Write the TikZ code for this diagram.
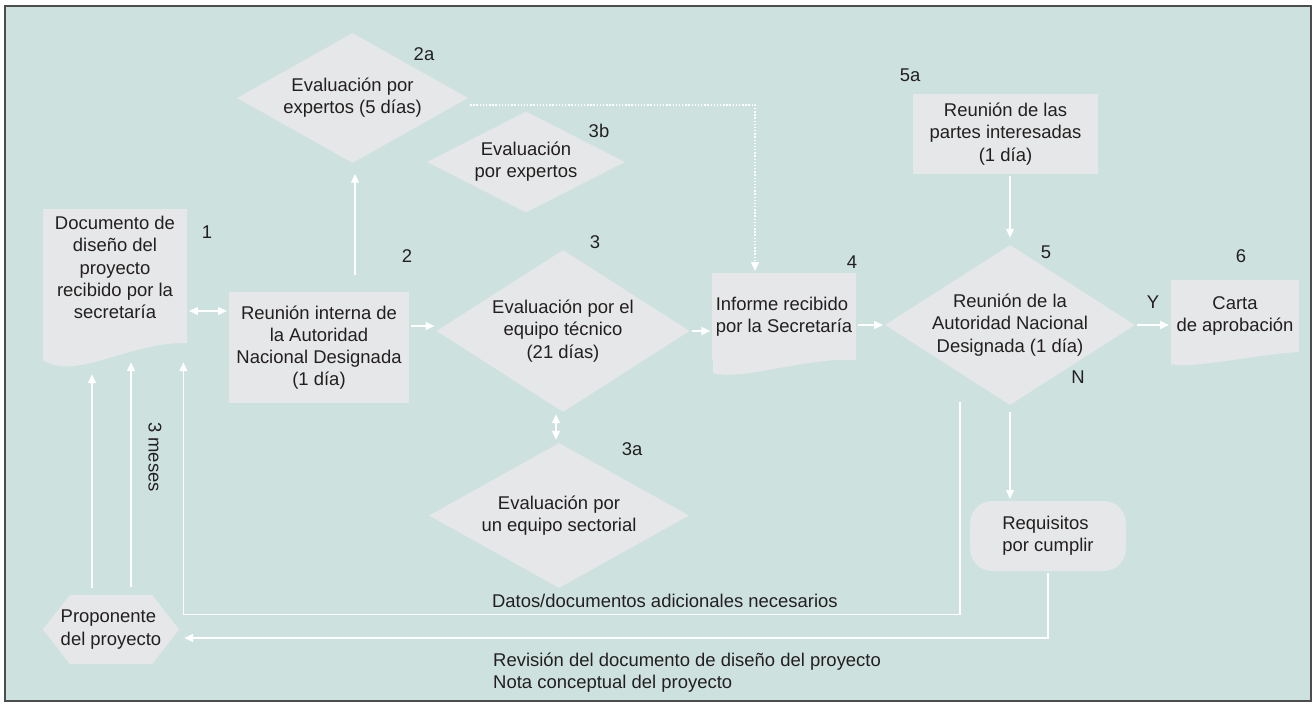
\documentclass[tikz,border=0pt]{standalone}
\usepackage{fontspec}
\setmainfont{Liberation Sans}
\usetikzlibrary{shapes.geometric, shapes.symbols, arrows.meta}

\definecolor{panel}{HTML}{CDE2DF}
\definecolor{boxgray}{HTML}{E6E7E8}
\definecolor{framegray}{HTML}{4D4D4D}
\definecolor{inkblack}{HTML}{231F20}

\begin{document}
\begin{tikzpicture}[
        font=\fontsize{10.5}{12.6}\selectfont, text=inkblack,
        box/.style={rectangle, fill=boxgray, align=center, inner sep=2pt},
        evalbox/.style={diamond, fill=boxgray, align=center, inner sep=0pt, aspect=1.7},
        flow/.style={->, >={Triangle[length=5pt, width=4.5pt]}, draw=white, line width=0.8pt, shorten <=1pt, shorten >=1pt},
        tag/.style={inner sep=0pt}
    ]
        % Frame
        \useasboundingbox (0,0) rectangle (26.28,14.08);
        \draw[fill=panel, draw=framegray, line width=1.1pt] (0.1,0.06) rectangle (26.22,13.96);

        % Documento de diseño (1)
        \node[box, minimum width=2.88cm, minimum height=2.34cm] (docu) at (2.30,8.73) {Documento de\\diseño del\\proyecto\\recibido por la\\secretaría};
        \fill[boxgray] (0.86,7.58) -- (0.86,6.88) .. controls (1.5,6.45) and (2.6,7.25) .. (3.74,7.22) -- (3.74,7.58) -- cycle;

        % Reunion interna (2)
        \node[box, minimum width=3.60cm, minimum height=2.22cm] (reunion) at (6.38,7.13) {Reunión interna de\\la Autoridad\\Nacional Designada\\(1 día)};

        % Evaluaciones
        \node[evalbox, minimum width=4.62cm, minimum height=2.60cm] (expertos) at (7.05,12.12) {Evaluación por\\expertos (5 días)};
        \node[evalbox, minimum width=3.96cm, minimum height=2.02cm] (expertosb) at (10.52,10.84) {Evaluación\\por expertos};
        \node[evalbox, aspect=1.5, minimum width=5.06cm, minimum height=3.24cm] (tecnico) at (11.26,7.46) {Evaluación por el\\equipo técnico\\(21 días)};
        \node[evalbox, minimum width=5.20cm, minimum height=2.90cm] (sectorial) at (11.18,3.77) {Evaluación por\\un equipo sectorial};

        % Informe (4)
        \node[box, align=left, minimum width=2.84cm, minimum height=1.74cm] (informe) at (15.68,7.75) {Informe recibido\\por la Secretaría};
        \fill[boxgray] (14.26,6.90) -- (14.26,6.62) .. controls (14.8,6.45) and (16.2,6.95) .. (17.10,6.88) -- (17.10,6.90) -- cycle;

        % Reuniones (5a, 5)
        \node[box, minimum width=3.70cm, minimum height=1.60cm] (partes) at (20.11,11.40) {Reunión de las\\partes interesadas\\(1 día)};
        \node[evalbox, aspect=1.55, inner sep=-1pt, minimum width=5.00cm, minimum height=3.20cm] (anadesig) at (20.20,7.58) {Reunión de la\\Autoridad Nacional\\Designada (1 día)};

        % Carta (6)
        \node[box, minimum width=2.56cm, minimum height=1.44cm] (carta) at (24.70,7.76) {Carta\\de aprobación};
        \fill[boxgray] (23.42,7.06) -- (23.42,6.80) .. controls (23.9,6.70) and (25.0,6.98) .. (25.98,7.04) -- (25.98,7.06) -- cycle;

        % Requisitos y proponente
        \node[box, align=left, rounded corners=0.45cm, minimum width=3.12cm, minimum height=1.40cm] (requis) at (20.96,3.36) {Requisitos\\por cumplir};
        \node[box, align=left, signal, signal to=west and east, signal pointer angle=104, inner xsep=-5.2pt, minimum height=1.38cm] (prop) at (2.22,1.49) {Proponente\\del proyecto};

        % Numbers
        \node[tag] (n1) at (4.14,9.44) {1};
        \node[tag] (n2) at (8.14,8.96) {2};
        \node[tag] (n2a) at (8.48,13.00) {2a};
        \node[tag] (n3b) at (11.98,11.46) {3b};
        \node[tag] (n3) at (11.90,9.24) {3};
        \node[tag] (n3a) at (12.64,5.10) {3a};
        \node[tag] (n4) at (17.04,8.84) {4};
        \node[tag] (n5a) at (18.20,12.58) {5a};
        \node[tag] (n5) at (20.92,9.04) {5};
        \node[tag] (n6) at (24.82,8.96) {6};
        \node[tag] (no) at (21.56,6.54) {N};

        % Connectors
        \draw[flow, <->] ([yshift=0.73cm]reunion.west) -- ([yshift=0.73cm]reunion.west -| docu.east);
        \draw[flow, shorten >=6pt] ([xshift=0.72cm, yshift=0.3cm]reunion.north) -- ([xshift=0.72cm]reunion.north |- expertos.south);
        \draw[flow] ([yshift=0.43cm]reunion.east) -- ([yshift=0.43cm]reunion.east -| tecnico.west);
        \draw[flow, <->, shorten <=0pt, shorten >=0pt] ([xshift=-0.14cm, yshift=-0.04cm]tecnico.south) -- ([xshift=-0.14cm, yshift=0.06cm]tecnico.south |- sectorial.north);
        \draw[flow] (tecnico.east) -- (tecnico.east -| informe.west);
        \draw[flow, densely dotted] ([yshift=-0.14cm]expertos.east) -| ([xshift=-0.58cm]informe.north);
        \draw[flow] (anadesig.west -| informe.east) -- (anadesig.west);
        \draw[flow] (anadesig.east) -- (anadesig.east -| carta.west) node[midway, above=0.2cm] (si) {Y};
        \draw[flow, shorten >=4pt] (partes.south -| anadesig.north) -- (anadesig.north);
        \draw[flow, shorten <=4pt] (anadesig.south) -- (anadesig.south |- requis.north);
        \draw[flow] (requis.south) |- ([xshift=0.06cm, yshift=-0.17cm]prop.east);
        \draw[flow, shorten >=0.72cm] ([xshift=-1cm, yshift=0.1cm]anadesig.south) -- ++(0,-4.28) -| node[pos=0.19, above] (datos) {Datos/documentos adicionales necesarios} ([xshift=-0.08cm]docu.south east);
        \draw[flow, shorten >=0.96cm] ([xshift=-0.38cm, yshift=0.1cm]prop.north) -- ([xshift=-0.38cm]prop.north |- docu.south);
        \draw[flow, shorten >=0.72cm] ([xshift=0.40cm, yshift=0.12cm]prop.north) -- ([xshift=0.40cm]prop.north |- docu.south);

        % Free labels
        \node[rotate=-90] (meses) at (3.10,4.94) {3 meses};
        \node[anchor=west, align=left] (revision) at (9.74,0.62) {Revisión del documento de diseño del proyecto\\Nota conceptual del proyecto};

    \end{tikzpicture}
\end{document}
